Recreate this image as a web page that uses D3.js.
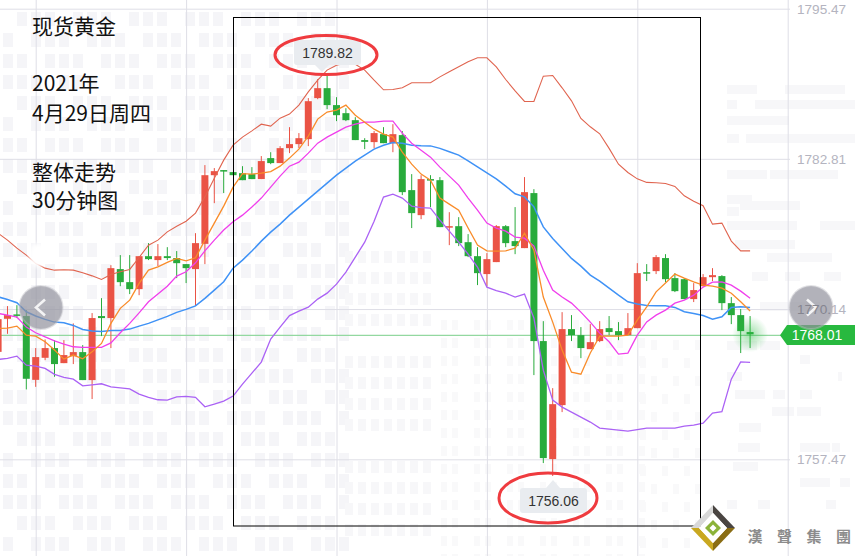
<!DOCTYPE html>
<html>
<head>
<meta charset="utf-8">
<script src="https://cdn.jsdelivr.net/npm/d3@7"></script>
<style>
  html, body { margin: 0; padding: 0; background: #fff; }
  svg { display: block; font-family: "Liberation Sans", Arial, sans-serif; }
  .note { font-family: "Noto Sans CJK SC", sans-serif; font-size: 21px; fill: #111; }
</style>
</head>
<body>
<svg id="chart" width="855" height="556"></svg>
<script>
// 30 minute candles, oldest first
var open = [1766.53,1769.32,1769.69,1769.55,1764.17,1766.03,1766.85,1765.58,1766.17,1766.51,
  1764.15,1769.55,1769.38,1773.51,1772.41,1771.82,1774.6,1774.27,1774.6,1774.44,
  1773.93,1773.51,1775.64,1781.43,1781.86,1781.69,1781.6,1781.52,1781.1,1782.87,
  1782.45,1783.71,1784.05,1784.47,1787.93,1788.77,1787.34,1786.66,1786.07,1784.39,
  1784.22,1784.89,1784.13,1784.81,1780.17,1778.06,1781.1,1781.01,1777.05,1777.13,
  1775.78,1774.6,1773.09,1774.1,1777.13,1775.87,1775.28,1779.92,1767.44,1757.49,
  1762.04,1768.45,1767.94,1766.76,1767.44,1768.53,1768.28,1767.94,1768.53,1773.25,
  1773.34,1774.44,1772.75,1772.66,1770.98,1772.07,1772.83,1772.92,1770.64,1769.63,1768.2];
var close = [1769.29,1769.63,1769.6,1764.26,1766.09,1766.85,1765.5,1766.26,1766.51,1764.15,
  1769.38,1769.38,1773.59,1772.41,1771.82,1774.6,1774.35,1774.6,1774.44,1774.01,
  1773.59,1775.7,1781.43,1781.77,1781.77,1781.43,1781.01,1781.1,1782.62,1782.45,
  1783.71,1784.05,1784.55,1787.67,1788.77,1787.34,1786.49,1786.07,1784.39,1784.24,
  1784.98,1784.13,1784.89,1780,1778.23,1781.1,1781.01,1777.05,1777.13,1775.7,
  1774.6,1773.17,1774.35,1777.13,1775.7,1775.45,1780,1767.44,1757.57,1762.12,
  1768.45,1767.94,1766.85,1767.35,1768.45,1768.2,1767.94,1768.53,1773.17,1773.17,
  1774.52,1772.66,1771.65,1770.98,1771.74,1772.83,1773,1770.64,1769.63,1768.28,1768.01];
var high = [1769.55,1770.39,1770.47,1770.05,1766.85,1767.58,1767.52,1767.52,1768.93,1767.1,
  1769.8,1771.06,1773.84,1774.69,1774.69,1774.6,1775.7,1775.62,1775.36,1775.03,
  1773.93,1776.54,1782.28,1782.03,1781.86,1781.69,1782.19,1782.11,1783.04,1783.37,
  1783.88,1785.48,1784.98,1787.93,1789.53,1789.82,1788.01,1787.08,1786.32,1784.55,
  1785.15,1785.48,1785.73,1785.15,1781.52,1781.43,1781.43,1781.27,1778.31,1777.89,
  1776.46,1775.36,1774.86,1777.22,1777.22,1778.74,1781.27,1780.25,1769.12,1763.47,
  1769.88,1769.63,1768.62,1768.87,1769.12,1769.55,1769.04,1769.8,1774.01,1773.93,
  1774.69,1774.77,1773.17,1772.75,1772.33,1773.09,1773.59,1773,1771.15,1770.14,1769.55];
var low = [1766.51,1768.05,1769.38,1763.36,1763.58,1765.83,1764.43,1765.58,1765.5,1764.15,
  1762.55,1767.86,1766.85,1772.07,1771.4,1771.31,1774.27,1773.76,1774.27,1772.75,
  1772.33,1770.39,1773.93,1779.07,1779.92,1781.43,1781.01,1781.1,1781.1,1782.36,
  1782.45,1783.29,1783.71,1783.88,1787.84,1787,1785.99,1785.99,1784.39,1783.63,
  1783.71,1784.13,1783.37,1779.75,1776.97,1777.72,1778.74,1777.05,1775.53,1775.45,
  1774.52,1772.16,1772.07,1774.1,1775.36,1774.77,1775.28,1764.57,1757.15,1756.06,
  1761.45,1767.44,1766,1766.76,1767.35,1767.94,1767.52,1767.94,1768.53,1772.5,
  1773.09,1772.41,1771.57,1770.98,1770.73,1772.07,1772.5,1770.05,1768.87,1766.43,1766.85];

// overlays
var upperBand = [1776.54,1775.95,1775.28,1774.69,1774.01,1773.59,1773.42,1773.45,1773.42,1773.2,
  1772.94,1772.64,1773.06,1773.28,1773.48,1774.49,1775.53,1775.95,1776.65,1777.13,
  1777.55,1778.23,1779.6,1781.18,1782.7,1783.96,1784.64,1785.17,1785.73,1785.57,
  1786.24,1786.58,1787.34,1788.46,1789.44,1790.29,1790.71,1790.9,1790.79,1790.29,
  1789.44,1788.63,1788.66,1788.8,1789.22,1789.22,1789.22,1789.72,1790.15,1790.57,
  1790.99,1791.33,1791.33,1790.57,1789.5,1788.54,1787.65,1787.65,1789.78,1789.84,
  1788.8,1787.7,1786.22,1785.51,1784.92,1783.69,1782.36,1781.66,1781.12,1780.82,
  1780.79,1780.73,1780.48,1779.69,1779.24,1778.85,1777.3,1777.39,1775.87,1775.05,1775.05];
var midBand = [1771.17,1770.95,1770.67,1769.91,1769.55,1769.27,1769.04,1768.98,1768.76,1768.42,
  1768.3,1768.25,1768.34,1768.34,1768.45,1768.7,1768.93,1769.23,1769.52,1769.86,
  1770.11,1770.41,1771.04,1771.74,1772.44,1773.59,1774.27,1775.03,1775.87,1776.63,
  1777.3,1778.06,1778.74,1779.41,1780.08,1780.76,1781.43,1782.03,1782.62,1783.12,
  1783.63,1783.96,1784.18,1784.13,1783.96,1783.92,1783.9,1783.69,1783.4,1783.12,
  1782.64,1782.13,1781.63,1781.12,1780.51,1779.86,1779.6,1778.76,1777.07,1776.1,
  1775.25,1774.41,1773.76,1773,1772.5,1771.91,1771.31,1770.75,1770.56,1770.45,
  1770.41,1770.41,1770.28,1769.91,1769.77,1769.6,1769.29,1769.49,1770.28,1770.33,1770.28];
var lowerBand = [1765.89,1765.98,1766.17,1765.41,1765.33,1765.13,1764.63,1764.38,1764.23,1763.67,
  1763.75,1763.84,1763.58,1763.5,1763.41,1762.97,1762.69,1762.49,1762.46,1762.74,
  1762.77,1762.69,1761.9,1762.12,1762.38,1762.8,1763.81,1764.74,1765.67,1767.61,
  1768.62,1769.59,1769.97,1770.3,1770.98,1771.48,1772.24,1773.26,1774.52,1775.78,
  1777.55,1779.58,1779.83,1779.5,1778.82,1778.69,1778.65,1777.64,1776.71,1775.78,
  1774.77,1773.68,1771.99,1771.7,1771.48,1771.15,1771.4,1769.38,1764.99,1762.46,
  1761.87,1761.45,1761.03,1760.61,1760.1,1760.02,1759.93,1759.85,1759.97,1760.1,
  1760.1,1760.1,1760.1,1760.27,1760.36,1760.52,1761.37,1761.48,1764.23,1765.69,1765.65];
var fastAvg = [1768.51,1768.53,1768.7,1767.94,1767.86,1767.38,1766.68,1765.92,1766.26,1765.94,
  1766.53,1767.24,1768.93,1770.2,1770.89,1772.3,1773.42,1773.7,1774.07,1774.41,
  1774.21,1774.46,1775.95,1777.39,1778.82,1780.42,1781.56,1781.52,1781.6,1781.73,
  1782.19,1782.87,1783.63,1784.72,1786.16,1786.75,1786.92,1787.34,1786.49,1785.9,
  1785.31,1784.89,1784.64,1783.37,1782.36,1781.52,1781.01,1779.5,1778.99,1778.48,
  1776.97,1775.53,1775.05,1775.03,1775.05,1775.28,1776.54,1775.11,1771.15,1769.04,
  1766.68,1764.82,1764.65,1766.43,1767.86,1767.86,1767.86,1767.94,1769.21,1770.33,
  1771.59,1772.33,1773.09,1772.75,1772.44,1772.16,1772.07,1771.91,1771.48,1770.75,1769.97];
var slowAvg = [1769.77,1769.63,1769.46,1768.62,1768.14,1767.8,1767.46,1767.18,1766.96,1766.91,
  1766.91,1766.91,1767.29,1768.14,1768.93,1769.82,1770.75,1771.4,1772.07,1772.92,
  1773.28,1774.04,1775.05,1775.95,1776.8,1777.5,1778.06,1778.74,1779.5,1780.42,
  1781.35,1782.19,1782.53,1783.29,1784.13,1784.64,1785.06,1785.48,1785.73,1785.9,
  1785.9,1785.99,1785.99,1784.98,1784.13,1783.54,1782.95,1782.11,1781.35,1780.59,
  1779.5,1778.48,1777.39,1776.97,1776.71,1776.21,1776.12,1775.45,1773.42,1771.74,
  1771.15,1770.64,1769.88,1769.04,1768.11,1767.38,1766.34,1766.43,1767.94,1769.06,
  1769.63,1770.05,1770.64,1770.89,1771.31,1771.99,1772.41,1772.44,1772.16,1771.65,1771.06];

var priceTicks = [1757.47, 1770.14, 1782.81, 1795.47];
var timeTicks = [4, 20, 36, 52, 68, 84];
var lastPrice = 1768.01;
var highMark = { index: 35, value: 1789.82 };
var lowMark = { index: 59, value: 1756.06 };
var notes = [
  ['现货黄金', 26], ['2021年', 83], ['4月29日周四', 113], ['整体走势', 172], ['30分钟图', 200]
];
var brandChars = ['漢', '聲', '集', '團'];

var upColor = '#ea5345', downColor = '#29ab3c';

var svg = d3.select('#chart');
var x = d3.scaleLinear().domain([0, 80]).range([-1.9, 750.1]);
var y = d3.scaleLinear().domain([1757.47, 1795.47]).range([459.3, 8.7]);

var defs = svg.append('defs');
defs.append('filter').attr('id', 'soft').append('feGaussianBlur').attr('stdDeviation', 2);
var glow = defs.append('radialGradient').attr('id', 'glow');
glow.append('stop').attr('offset', '0%').attr('stop-color', '#28b93f').attr('stop-opacity', 0.45);
glow.append('stop').attr('offset', '100%').attr('stop-color', '#28b93f').attr('stop-opacity', 0);
defs.append('clipPath').attr('id', 'rightNav')
  .append('circle').attr('cx', 811).attr('cy', 307.5).attr('r', 21.5);

//------------------------------------------------------------
// Watermark tiles behind the chart

var tiles = svg.append('g');

function tileBlock(x0, x1, y0, y1, w, h, dx, dy, skip, color) {
  var col = 0;
  for (var tx = x0; tx < x1; tx += dx, col++) {
    var row = 0;
    for (var ty = y0; ty < y1; ty += dy, row++) {
      if ((col * 5 + row * 3) % skip === 0) { continue; }
      tiles.append('rect').attr('x', tx).attr('y', ty).attr('width', w).attr('height', h).attr('fill', color);
    }
  }
}
tileBlock(3, 345, 12, 556, 10, 14, 14, 21, 4, '#f5f5f8');
tileBlock(345, 430, 230, 556, 8, 12, 13, 21, 5, '#f7f7f9');
tileBlock(430, 640, 320, 556, 6, 10, 11, 18, 3, '#f9f9fa');
tileBlock(640, 700, 340, 556, 6, 10, 11, 18, 2, '#f9f9fa');

// text-like bars on the right
var barRows = [[727, 85, 30], [785, 85, 60], [727, 100, 10], [755, 100, 100], [727, 116, 62], [727, 134, 12],
  [746, 134, 110], [727, 170, 40], [770, 170, 68], [727, 195, 25], [727, 207, 12], [740, 201, 60], [727, 221, 70],
  [820, 221, 35], [735, 240, 60], [767, 253, 65], [752, 272, 16], [785, 272, 15], [824, 272, 17], [760, 302, 60],
  [727, 341, 30], [760, 341, 20], [800, 355, 10], [727, 372, 15], [838, 372, 4], [735, 390, 30], [773, 390, 12],
  [800, 390, 12], [772, 407, 22], [797, 407, 24], [739, 423, 22], [738, 443, 22], [800, 443, 30], [832, 443, 8],
  [733, 462, 25], [800, 478, 30], [840, 478, 10], [727, 500, 10], [758, 500, 12], [826, 500, 10]];
svg.append('g').attr('fill', '#f7f7f9').selectAll('rect').data(barRows).join('rect')
  .attr('x', function(d) { return d[0]; })
  .attr('y', function(d) { return d[1]; })
  .attr('width', function(d) { return d[2]; })
  .attr('height', 9);

//------------------------------------------------------------
// Grid

var yGrid = d3.axisRight(y).tickValues(priceTicks).tickSize(790).tickFormat('');
var yGridG = svg.append('g').call(yGrid);
yGridG.select('.domain').remove();
yGridG.selectAll('line').attr('stroke', '#dedee6');

var xGrid = d3.axisBottom(x).tickValues(timeTicks).tickSize(556).tickFormat('');
var xGridG = svg.append('g').call(xGrid);
xGridG.select('.domain').remove();
xGridG.selectAll('line').attr('stroke', '#dedee6');

// current price line
svg.append('line')
  .attr('x1', 0).attr('x2', 782)
  .attr('y1', y(lastPrice) + 1).attr('y2', y(lastPrice) + 1)
  .attr('stroke', '#93d8a0').attr('stroke-width', 1.2);

//------------------------------------------------------------
// Candles

var candles = d3.range(open.length).map(function(i) {
  return { i: i, open: open[i], close: close[i], high: high[i], low: low[i] };
});
function candleColor(d) { return d.close > d.open ? upColor : downColor; }

var candleG = svg.append('g');
candleG.selectAll('line').data(candles).join('line')
  .attr('x1', function(d) { return x(d.i); })
  .attr('x2', function(d) { return x(d.i); })
  .attr('y1', function(d) { return y(d.high); })
  .attr('y2', function(d) { return y(d.low); })
  .attr('stroke', candleColor)
  .attr('stroke-width', 1);
candleG.selectAll('rect').data(candles).join('rect')
  .attr('x', function(d) { return x(d.i) - 3.5; })
  .attr('width', 7)
  .attr('y', function(d) { return y(Math.max(d.open, d.close)); })
  .attr('height', function(d) { return Math.max(1.5, Math.abs(y(d.open) - y(d.close))); })
  .attr('fill', candleColor);

//------------------------------------------------------------
// Overlay lines

var lineGen = d3.line()
  .x(function(d, i) { return x(i); })
  .y(function(d) { return y(d); });

var overlays = [
  [upperBand, '#e0644f', 1.1],
  [lowerBand, '#ab62f5', 1.3],
  [midBand, '#3f92f6', 1.5],
  [slowAvg, '#f03fec', 1.3],
  [fastAvg, '#f98c2a', 1.3]
];
svg.append('g').attr('fill', 'none').selectAll('path').data(overlays).join('path')
  .attr('d', function(d) { return lineGen(d[0]); })
  .attr('stroke', function(d) { return d[1]; })
  .attr('stroke-width', function(d) { return d[2]; });

// washed out patch over the upper band near the left edge
svg.append('ellipse')
  .attr('cx', 38).attr('cy', 255).attr('rx', 9).attr('ry', 12)
  .attr('fill', '#fff').attr('filter', 'url(#soft)');

// glow under the last candle
svg.append('circle')
  .attr('cx', x(80)).attr('cy', y(lastPrice)).attr('r', 18)
  .attr('fill', 'url(#glow)');

//------------------------------------------------------------
// Price tag and nav buttons

svg.append('path')
  .attr('d', 'M780,' + (y(lastPrice) + 1) + 'L787,325H855V345H787Z')
  .attr('fill', '#28b93f');
svg.append('text')
  .attr('x', 817).attr('y', y(lastPrice) + 1).attr('dy', '.35em')
  .attr('text-anchor', 'middle').attr('fill', '#fff').attr('font-size', 14)
  .text(lastPrice.toFixed(2));

function navButton(cx, cy, path) {
  svg.append('circle').attr('cx', cx).attr('cy', cy).attr('r', 21.5)
    .attr('fill', 'rgba(146,146,156,.7)').attr('stroke', 'rgba(190,190,198,.45)').attr('stroke-width', 2);
  svg.append('path').attr('d', path).attr('transform', 'translate(' + cx + ',' + cy + ')')
    .attr('fill', 'none').attr('stroke', '#fff').attr('stroke-width', 2.6).attr('opacity', 0.85);
}
navButton(41, 307.5, 'M4,-8L-5,0L4,8');
navButton(811, 307.5, 'M-4,-8L5,0L-4,8');

//------------------------------------------------------------
// Price labels stay readable through the right button

function priceLabels(color, clip) {
  var axis = d3.axisRight(y).tickValues(priceTicks).tickSize(0).tickPadding(797)
    .tickFormat(function(d) { return d.toFixed(2); });
  var g = svg.append('g').call(axis);
  g.select('.domain').remove();
  g.selectAll('line').remove();
  g.selectAll('text').attr('fill', color).attr('font-size', 13.6)
    .attr('font-family', '"Liberation Sans", Arial, sans-serif');
  if (clip) { g.attr('clip-path', clip); }
}
priceLabels('#b4b4c0', null);
priceLabels('#85858f', 'url(#rightNav)');

//------------------------------------------------------------
// Frame, notes and high/low callouts

svg.append('rect')
  .attr('x', 233.5).attr('y', 17.5).attr('width', 467).attr('height', 508.5)
  .attr('fill', 'none').attr('stroke', '#000').attr('stroke-width', 1);

svg.append('g').selectAll('text').data(notes).join('text')
  .attr('class', 'note')
  .attr('x', 32)
  .attr('y', function(d) { return d[1]; })
  .attr('dy', '.36em')
  .text(function(d) { return d[0]; });

function callout(value, boxX, boxY, tip, cx, cy, rx, ry) {
  svg.append('path')
    .attr('d', tip)
    .attr('fill', '#e9ecf0');
  svg.append('rect')
    .attr('x', boxX).attr('y', boxY).attr('width', 67).attr('height', 25).attr('rx', 3)
    .attr('fill', '#e9ecf0');
  svg.append('text')
    .attr('x', boxX + 33.5).attr('y', boxY + 13).attr('dy', '.35em')
    .attr('text-anchor', 'middle').attr('font-size', 14).attr('fill', '#333')
    .text(value.toFixed(2));
  svg.append('ellipse')
    .attr('cx', cx).attr('cy', cy).attr('rx', rx).attr('ry', ry)
    .attr('fill', 'none').attr('stroke', '#ef3b3f').attr('stroke-width', 3);
}
callout(highMark.value, 294, 40, 'M315,65L322,72L329,65Z', 326, 55, 51, 19.5);
callout(lowMark.value, 520, 488, 'M546,488L553,480L560,488Z', 548, 498, 49, 25);

//------------------------------------------------------------
// Logo

var logo = svg.append('g').attr('transform', 'translate(713,528)');
var logoParts = [
  ['M-22,0L0,-23L0,-15L-14,0Z', '#d8d8d8'],
  ['M0,-23L22,0L14,0L0,-15Z', '#4a4542'],
  ['M-22,0L-14,0L0,15L0,23Z', '#c9a820'],
  ['M22,0L14,0L0,15L0,23Z', '#8a6d14'],
  ['M-14,0L0,-15L14,0L0,15Z', '#fff'],
  ['M-8,0L0,-8L8,0L0,8ZM-3.5,0L0,3.5L3.5,0L0,-3.5Z', '#8cb33a']
];
logo.selectAll('path').data(logoParts).join('path')
  .attr('d', function(d) { return d[0]; })
  .attr('fill', function(d) { return d[1]; })
  .attr('fill-rule', 'evenodd');

svg.append('g').selectAll('text').data(brandChars).join('text')
  .attr('x', function(d, i) { return 755 + i * 29.5; })
  .attr('y', 537)
  .attr('dy', '.36em')
  .attr('text-anchor', 'middle')
  .attr('font-family', '"Noto Sans CJK TC", sans-serif')
  .attr('font-size', 15)
  .attr('font-weight', 700)
  .attr('fill', '#8c8c8c')
  .text(function(d) { return d; });
</script>
</body>
</html>
